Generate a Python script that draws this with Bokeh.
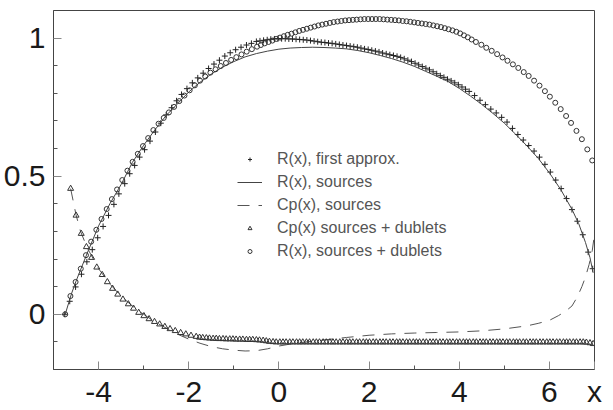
from bokeh.plotting import figure
from bokeh.models import Range1d, FixedTicker, Legend, LegendItem
from bokeh.embed import file_html
from bokeh.resources import INLINE

# ---- R(x), sources + dublets (circles)
r_sd_x = [-4.74, -4.625, -4.51, -4.395, -4.28, -4.165, -4.05, -3.935, -3.82, -3.705,
          -3.59, -3.475, -3.36, -3.245, -3.13, -3.015, -2.90, -2.785, -2.67, -2.555,
          -2.44, -2.325, -2.21, -2.095, -1.98, -1.865, -1.75, -1.635, -1.52, -1.405,
          -1.29, -1.175, -1.06, -0.945, -0.83, -0.715, -0.60, -0.485,
          -0.40, -0.315, -0.23, -0.145, -0.06, 0.025, 0.11, 0.195, 0.28, 0.365,
          0.45, 0.535, 0.62, 0.705, 0.79, 0.875, 0.96, 1.045, 1.13, 1.215,
          1.30, 1.385, 1.47, 1.555, 1.64, 1.725, 1.81, 1.895, 1.98, 2.065,
          2.15, 2.235, 2.32, 2.405, 2.49, 2.575, 2.66, 2.745, 2.83, 2.915,
          3.00, 3.085, 3.17, 3.255, 3.34, 3.425, 3.51, 3.595, 3.68, 3.765,
          3.85, 3.935, 4.02, 4.105, 4.19, 4.275,
          4.37, 4.49, 4.60, 4.72, 4.84, 4.96, 5.07, 5.19, 5.31, 5.43,
          5.54, 5.66, 5.78, 5.90, 6.01, 6.13, 6.25, 6.37, 6.48, 6.60,
          6.72, 6.84, 6.95]
r_sd_y = [0.0, 0.066, 0.117, 0.165, 0.214, 0.263, 0.306, 0.345, 0.381, 0.417,
          0.452, 0.486, 0.520, 0.552, 0.581, 0.609, 0.638, 0.667, 0.690, 0.711,
          0.731, 0.751, 0.772, 0.792, 0.811, 0.829, 0.846, 0.861, 0.875, 0.887,
          0.899, 0.910, 0.921, 0.931, 0.941, 0.951, 0.960, 0.969,
          0.975, 0.981, 0.986, 0.991, 0.997, 1.002, 1.007, 1.012, 1.016, 1.021,
          1.026, 1.030, 1.034, 1.038, 1.042, 1.046, 1.049, 1.052, 1.055, 1.058,
          1.060, 1.062, 1.064, 1.065, 1.066, 1.067, 1.068, 1.069, 1.069, 1.069,
          1.069, 1.069, 1.068, 1.067, 1.066, 1.065, 1.064, 1.062, 1.061, 1.059,
          1.057, 1.055, 1.053, 1.051, 1.049, 1.046, 1.043, 1.040, 1.036, 1.032,
          1.028, 1.023, 1.017, 1.010, 1.003, 0.995,
          0.986, 0.976, 0.965, 0.954, 0.942, 0.930, 0.918, 0.905, 0.892, 0.877,
          0.863, 0.846, 0.828, 0.808, 0.788, 0.766, 0.743, 0.718, 0.693, 0.664,
          0.634, 0.597, 0.557]

# ---- Cp(x) sources + dublets (triangles)
cp_sd_x = [-4.62, -4.50, -4.385, -4.27, -4.155, -4.04, -3.92, -3.805, -3.69, -3.575,
           -3.46, -3.34, -3.225, -3.11, -2.995, -2.88, -2.76, -2.645, -2.53, -2.415,
           -2.30, -2.18, -2.065, -1.95, -1.835,
           -1.76, -1.69, -1.61, -1.54, -1.46, -1.39, -1.32, -1.24, -1.17, -1.09,
           -1.02, -0.95, -0.87, -0.80, -0.72, -0.65, -0.58, -0.50, -0.43, -0.35,
           -0.28, -0.21, -0.13, -0.06, 0.02, 0.09, 0.16, 0.24, 0.31, 0.39,
           0.46, 0.53, 0.61, 0.68, 0.76, 0.83, 0.90, 0.98, 1.05, 1.13,
           1.20, 1.27, 1.35, 1.42, 1.50, 1.57, 1.64, 1.72, 1.79, 1.87,
           1.94, 2.01, 2.09, 2.16, 2.24, 2.31, 2.38, 2.46, 2.53, 2.61,
           2.68, 2.75, 2.83, 2.90, 2.98, 3.05, 3.12, 3.20, 3.27, 3.35,
           3.42, 3.49, 3.57, 3.64, 3.72, 3.79, 3.86, 3.94, 4.01, 4.09,
           4.16, 4.23, 4.31, 4.38, 4.46, 4.53, 4.60, 4.68, 4.75, 4.83,
           4.90, 4.97, 5.05, 5.12, 5.20, 5.27, 5.34, 5.42, 5.49, 5.57,
           5.64, 5.71, 5.79, 5.86, 5.94, 6.01, 6.08, 6.16, 6.23, 6.31,
           6.38, 6.45, 6.53, 6.60, 6.68, 6.75, 6.82, 6.90, 6.97]
cp_sd_y = [0.455, 0.358, 0.292, 0.244, 0.205, 0.170, 0.143, 0.117, 0.093, 0.072,
           0.054, 0.037, 0.021, 0.006, -0.006, -0.017, -0.027, -0.036, -0.045, -0.053,
           -0.060, -0.067, -0.072, -0.077, -0.081,
           -0.084, -0.085, -0.086, -0.087, -0.088, -0.088, -0.089, -0.089, -0.090, -0.090,
           -0.090, -0.091, -0.091, -0.091, -0.092, -0.092, -0.092, -0.093, -0.094, -0.095,
           -0.097, -0.099, -0.100, -0.101, -0.101, -0.101, -0.101, -0.101, -0.101, -0.101,
           -0.101, -0.101, -0.101, -0.101, -0.101, -0.101, -0.101, -0.101, -0.101, -0.101,
           -0.101, -0.101, -0.101, -0.101, -0.101, -0.101, -0.101, -0.101, -0.101, -0.101,
           -0.101, -0.101, -0.101, -0.101, -0.101, -0.101, -0.101, -0.101, -0.101, -0.101,
           -0.101, -0.101, -0.101, -0.101, -0.101, -0.101, -0.101, -0.101, -0.101, -0.101,
           -0.101, -0.101, -0.101, -0.101, -0.101, -0.101, -0.101, -0.101, -0.101, -0.101,
           -0.101, -0.101, -0.101, -0.101, -0.101, -0.101, -0.101, -0.101, -0.101, -0.101,
           -0.101, -0.101, -0.101, -0.101, -0.101, -0.101, -0.101, -0.101, -0.101, -0.101,
           -0.101, -0.101, -0.101, -0.101, -0.101, -0.101, -0.101, -0.101, -0.101, -0.101,
           -0.101, -0.101, -0.101, -0.101, -0.101, -0.101, -0.102, -0.104, -0.107]

# ---- R(x), first approx. (crosses)
r_fa_x = [-4.75, -4.64, -4.51, -4.38, -4.26, -4.14, -4.02, -3.90, -3.78, -3.66,
          -3.55, -3.42, -3.31, -3.20, -3.09, -2.98, -2.86, -2.74, -2.62, -2.50,
          -2.38, -2.27, -2.16, -2.04, -1.92, -1.80, -1.68, -1.56, -1.44, -1.32,
          -1.20, -1.08, -0.96, -0.84, -0.72, -0.61, -0.50,
          -0.42, -0.34, -0.26, -0.18, -0.10, -0.02, 0.06, 0.14, 0.22, 0.30,
          0.38, 0.46, 0.54, 0.62, 0.70, 0.78, 0.86, 0.94, 1.02, 1.10,
          1.18, 1.26, 1.34, 1.42, 1.50, 1.58, 1.66, 1.74, 1.82, 1.90,
          1.98, 2.06, 2.14, 2.22, 2.30, 2.38, 2.46, 2.54, 2.62, 2.70,
          2.78, 2.86, 2.94, 3.02, 3.10, 3.18, 3.26, 3.34, 3.42, 3.50,
          3.58, 3.66, 3.74, 3.82, 3.90, 3.98, 4.06, 4.14, 4.22,
          4.34, 4.46, 4.58, 4.70, 4.82, 4.94, 5.06, 5.18, 5.30, 5.42,
          5.54, 5.66, 5.78, 5.90, 6.02, 6.14, 6.26, 6.38, 6.50, 6.62,
          6.74, 6.86, 6.96]
r_fa_y = [0.0, 0.047, 0.099, 0.145, 0.190, 0.234, 0.277, 0.318, 0.358, 0.398,
          0.436, 0.473, 0.509, 0.539, 0.569, 0.596, 0.627, 0.660, 0.692, 0.722,
          0.748, 0.773, 0.796, 0.817, 0.838, 0.856, 0.873, 0.890, 0.906, 0.920,
          0.935, 0.947, 0.958, 0.967, 0.975, 0.981, 0.988,
          0.990, 0.992, 0.994, 0.996, 0.997, 0.998, 0.998, 0.998, 0.997, 0.997,
          0.996, 0.995, 0.994, 0.993, 0.991, 0.989, 0.987, 0.985, 0.984, 0.982,
          0.981, 0.979, 0.977, 0.975, 0.973, 0.971, 0.969, 0.967, 0.964, 0.961,
          0.959, 0.956, 0.953, 0.950, 0.946, 0.943, 0.940, 0.937, 0.934, 0.930,
          0.925, 0.920, 0.915, 0.909, 0.903, 0.897, 0.891, 0.885, 0.878, 0.871,
          0.864, 0.858, 0.851, 0.845, 0.838, 0.831, 0.823, 0.815, 0.807,
          0.792, 0.775, 0.759, 0.743, 0.729, 0.713, 0.696, 0.673, 0.651, 0.631,
          0.611, 0.591, 0.569, 0.543, 0.515, 0.486, 0.455, 0.419, 0.379, 0.337,
          0.288, 0.225, 0.165]

# ---- R(x), sources (solid line)
r_s_x = [-4.74, -4.6, -4.5, -4.25, -4.0, -3.75, -3.5, -3.25, -3.0, -2.75,
         -2.5, -2.25, -2.0, -1.75, -1.5, -1.25, -1.0, -0.75, -0.5, -0.25,
         0.0, 0.25, 0.5, 0.75, 1.0, 1.25, 1.5, 1.75, 2.0, 2.25,
         2.5, 2.75, 3.0, 3.25, 3.5, 3.75, 4.0, 4.25, 4.5, 4.75,
         5.0, 5.25, 5.5, 5.75, 6.0, 6.25, 6.5, 6.65, 6.8, 6.9, 6.97]
r_s_y = [0.0, 0.075, 0.12, 0.222, 0.32, 0.40, 0.47, 0.55, 0.612, 0.668,
         0.72, 0.762, 0.805, 0.84, 0.87, 0.895, 0.915, 0.932, 0.944, 0.953,
         0.96, 0.964, 0.966, 0.967, 0.966, 0.964, 0.961, 0.955, 0.947, 0.937,
         0.926, 0.913, 0.898, 0.88, 0.862, 0.843, 0.818, 0.79, 0.76, 0.727,
         0.692, 0.652, 0.61, 0.565, 0.512, 0.452, 0.38, 0.328, 0.26, 0.205, 0.15]

# ---- Cp(x), sources (dashed line)
cp_s_x = [-4.62, -4.5, -4.4, -4.25, -4.0, -3.75, -3.5, -3.25, -3.0, -2.75,
          -2.5, -2.25, -2.0, -1.75, -1.5, -1.25, -1.0, -0.75, -0.5, -0.25,
          0.0, 0.25, 0.5, 0.75, 1.0, 1.5, 2.0, 2.5, 3.0, 3.5,
          4.0, 4.5, 5.0, 5.5, 5.75, 6.0, 6.2, 6.35, 6.5, 6.62,
          6.72, 6.8, 6.88, 6.95, 7.0]
cp_s_y = [0.455, 0.36, 0.30, 0.24, 0.165, 0.11, 0.065, 0.03, 0.0, -0.028,
          -0.05, -0.072, -0.09, -0.105, -0.117, -0.125, -0.13, -0.133, -0.132, -0.125,
          -0.115, -0.108, -0.102, -0.098, -0.093, -0.084, -0.076, -0.071, -0.068, -0.066,
          -0.064, -0.06, -0.053, -0.042, -0.033, -0.022, -0.005, 0.01, 0.03, 0.063,
          0.10, 0.135, 0.18, 0.23, 0.29]

x_major = [-4, -2, 0, 2, 4, 6, 7]
x_labels = {-4: "-4", -2: "-2", 0: "0", 2: "2", 4: "4", 6: "6", 7: "x"}
x_minor = [-3, -1, 1, 3, 5]
y_major = [0, 0.5, 1]
y_minor = [-0.1, 0.1, 0.2, 0.3, 0.4, 0.6, 0.7, 0.8, 0.9]
legend_labels = ["R(x), first approx.", "R(x), sources", "Cp(x), sources",
                 "Cp(x) sources + dublets", "R(x), sources + dublets"]

FONT = "Liberation Sans"

p = figure(width=613, height=410, output_backend="svg", toolbar_location=None,
           x_range=Range1d(-5, 7), y_range=Range1d(-0.2, 1.1),
           min_border_left=53, min_border_right=19, min_border_top=10, min_border_bottom=41)
p.background_fill_color = "white"
p.border_fill_color = "white"
p.outline_line_color = "#444444"
p.outline_line_width = 1
p.xgrid.visible = False
p.ygrid.visible = False

for ax, maj, mnr in ((p.xaxis[0], x_major, x_minor), (p.yaxis[0], y_major, y_minor)):
    ax.ticker = FixedTicker(ticks=maj, minor_ticks=mnr)
    ax.axis_line_color = "#444444"
    ax.major_tick_in = 8
    ax.major_tick_out = 0
    ax.minor_tick_in = 4
    ax.minor_tick_out = 0
    ax.major_tick_line_color = "#888888"
    ax.minor_tick_line_color = "#555555"
    ax.major_label_text_font = FONT
    ax.major_label_text_font_size = "30px"
    ax.major_label_text_color = "#1a1a1a"
p.xaxis[0].major_label_standoff = 5
p.yaxis[0].major_label_standoff = 8
p.xaxis[0].major_label_overrides = x_labels

r_cross = p.scatter(r_fa_x, r_fa_y, marker="cross", size=6, line_color="#222222", line_width=1)
r_solid = p.line(r_s_x, r_s_y, line_color="#444444", line_width=1)
r_dash = p.line(cp_s_x, cp_s_y, line_color="#555555", line_width=1, line_dash="12 9")
r_tri = p.scatter(cp_sd_x, cp_sd_y, marker="triangle", size=6, line_color="#333333",
                  fill_color=None, line_width=1)
r_circ = p.scatter(r_sd_x, r_sd_y, marker="circle", size=5, line_color="#333333",
                   fill_color=None, line_width=1)

legend = Legend(items=[LegendItem(label=lab, renderers=[r]) for lab, r in
                       zip(legend_labels, [r_cross, r_solid, r_dash, r_tri, r_circ])],
                location=(184, 109), orientation="vertical",
                glyph_width=25, glyph_height=10, label_height=16, label_standoff=15,
                spacing=5, padding=0, margin=0,
                label_text_font=FONT, label_text_font_size="16px", label_text_color="#555555",
                background_fill_alpha=0, border_line_alpha=0)
p.add_layout(legend, "center")

open("out.html", "w").write(file_html(p, INLINE))
